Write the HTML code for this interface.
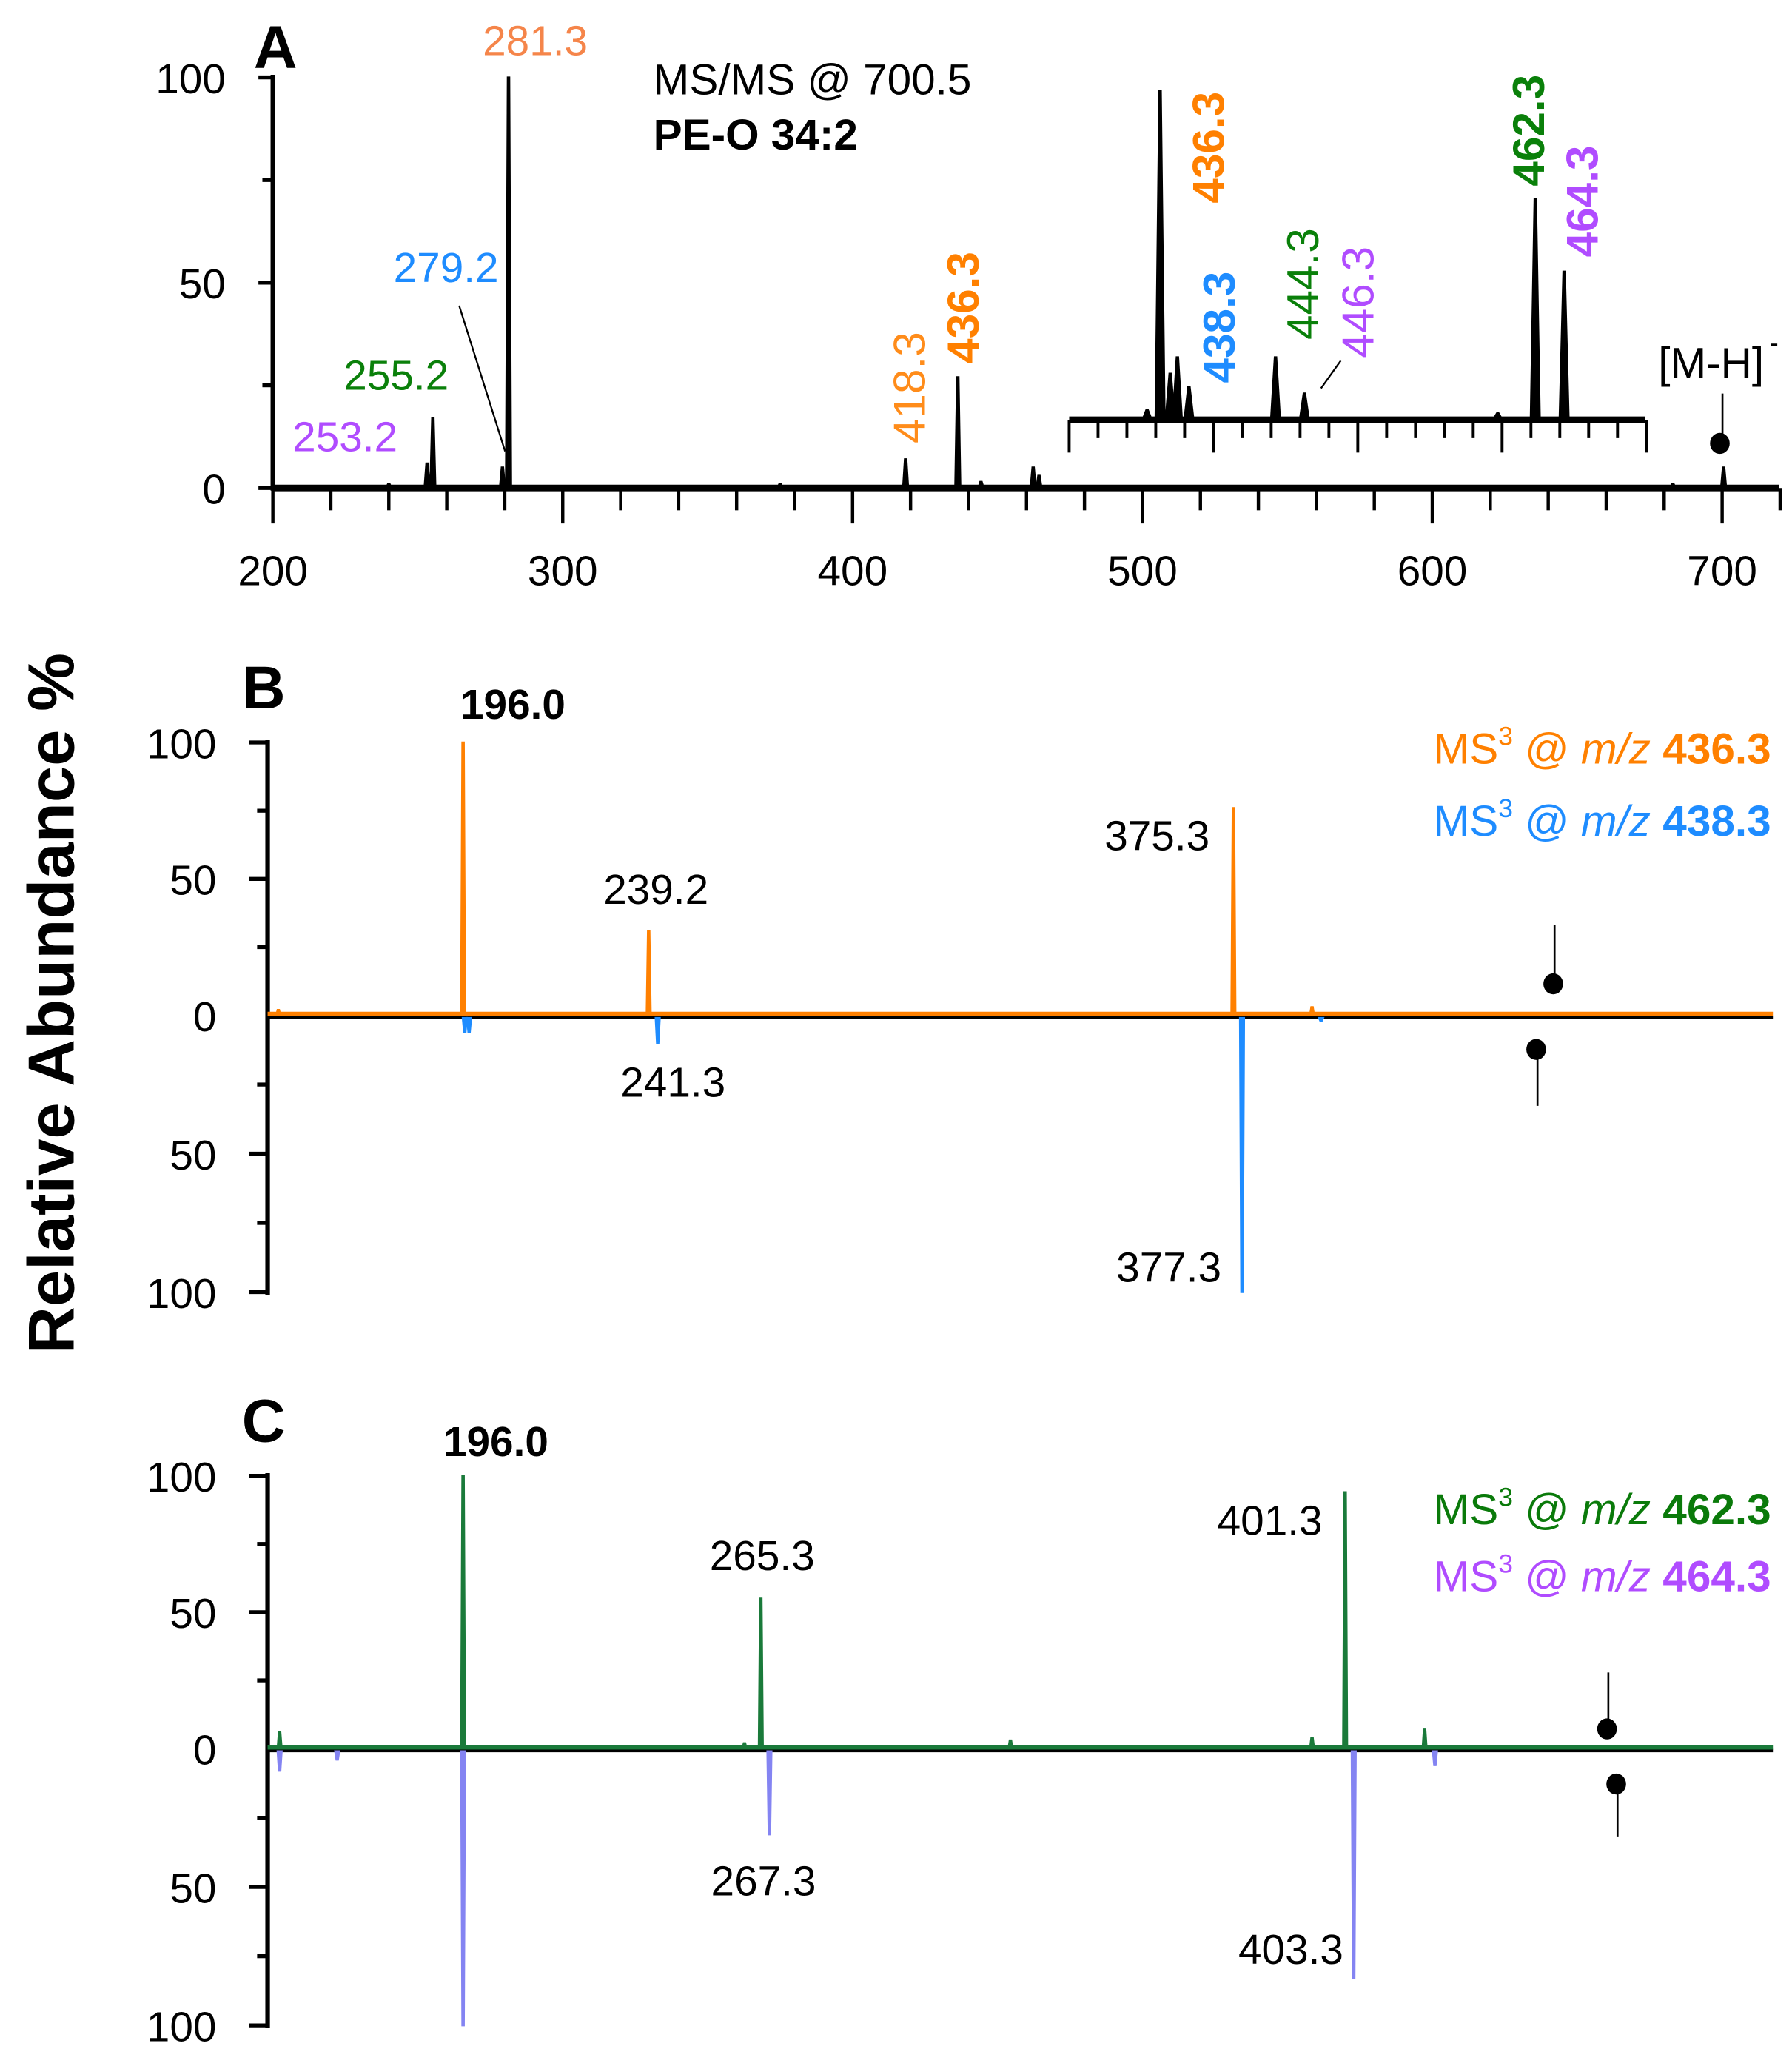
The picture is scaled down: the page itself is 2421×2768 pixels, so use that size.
<!DOCTYPE html>
<html><head><meta charset="utf-8">
<style>
html,body{margin:0;padding:0;background:#fff;}
svg{display:block;}
text{font-family:"Liberation Sans",Arial,sans-serif;}
</style></head>
<body>
<svg id="fig" width="2421" height="2768" viewBox="0 0 1366 1562" preserveAspectRatio="none" xmlns="http://www.w3.org/2000/svg">
<g id="gA"></g>
<g id="gB"></g>
<g id="gC"></g>
<text transform="translate(56,765) rotate(-90)" text-anchor="middle" font-size="50" font-weight="bold">Relative Abundance %</text>
</svg>
<script>
// Panel A data
const aMz   = [240, 253.2, 255.2, 279.2, 281.3, 375, 418.3, 436.3, 444.3, 462.3, 464.3, 683, 700.5];
const aInt  = [1, 6, 17, 5, 100, 1, 7, 27, 1.5, 5, 3, 1, 5];
const aXTicks = [200, 300, 400, 500, 600, 700];
const aYTicks = [0, 50, 100];
const insetMz  = [435.4, 436.3, 437.0, 437.5, 438.3, 444.3, 446.3, 459.7, 462.3, 464.3];
const insetInt = [3, 100, 14, 19, 10, 19, 8, 2, 67, 45];
// Panel B data
const bUpMz  = [153, 196.0, 239.2, 375.3, 393.6];
const bUpInt = [2, 100, 31, 76, 3];
const bDnMz  = [196.4, 197.4, 241.3, 377.3, 395.7];
const bDnInt = [6, 6, 10, 100, 2];
// Panel C data
const cUpMz  = [153.3, 196.0, 261.5, 265.3, 323.4, 393.6, 401.3, 419.8];
const cUpInt = [6, 100, 2, 55, 3, 4, 94, 7];
const cDnMz  = [153.3, 166.7, 196.0, 267.3, 403.3, 422.2];
const cDnInt = [8, 4, 100, 31, 83, 6];
const yTicksBC = [100, 50, 0, 50, 100];

const NS = "http://www.w3.org/2000/svg";
function el(tag, attrs, parent, txt){
  const e = document.createElementNS(NS, tag);
  for (const k in attrs) e.setAttribute(k, attrs[k]);
  if (txt !== undefined) e.textContent = txt;
  parent.appendChild(e); return e;
}
function line(p, x1,y1,x2,y2,c,w,name){
  const e = el('line',{x1:x1,y1:y1,x2:x2,y2:y2,stroke:c,'stroke-width':w},p);
  
  
  return e;
}
function txt(p, x,y,s,opts,name){
  const a = Object.assign({x:x,y:y,'font-size':32,'text-anchor':'middle',fill:'#000'}, opts||{});
  const e = el('text', a, p, s);
  
  
  return e;
}
function rtxt(p, x,y,s,col,bold,name){
  const e = el('text',{transform:`translate(${x},${y}) rotate(-90)`,'font-size':34,fill:col,'font-weight':bold?'bold':'normal'},p,s);
  
  
  return e;
}
function peak(p, x, y0, y1, c, w, name){
  const e = el('path',{d:`M${x-w} ${y0} L${x-0.6} ${y1} L${x+0.6} ${y1} L${x+w} ${y0} Z`,fill:c,stroke:c,'stroke-width':1.4},p);
  
  
  return e;
}

// ---------- Panel A ----------
(function(){
  const g = document.getElementById('gA');
  const X = m => 208 + (m-200)*2.2095;
  const Y = v => 372 - v*3.13;
  const x0 = 208, xEnd = 1356, y0 = 372;
  for (let m=200; m<=720; m+=20){
    const major = (m%100===0);
    line(g, X(m), y0, X(m), major?399:389, '#000', 2.5, major?'x-tick-major':'x-tick-minor');
  }
  aXTicks.forEach(t=>txt(g, X(t), 446, String(t), {}, 'x-tick-label'));
  [0,25,50,75,100].forEach(v=>{
    const major = v%50===0;
    line(g, major?197:200, Y(v), x0, Y(v), '#000', 3, major?'y-tick-major':'y-tick-minor');
  });
  aYTicks.forEach(t=>txt(g, 172, Y(t)+12, String(t), {'text-anchor':'end'}, 'y-tick-label'));
  line(g, x0, Y(100)-2, x0, y0+2, '#000', 3.5, 'y-axis-line');
  aMz.forEach((m,i)=>peak(g, X(m), y0, Y(aInt[i]), '#000', 2, 'peak-a'));
  line(g, x0, y0, xEnd, y0, '#000', 5, 'x-axis-line');
  // inset
  const IX = m => 815 + (m-430)*11;
  const IY = v => 320 - v*2.51;
  for (let k=0;k<=20;k++){
    const m = 430 + k*2;
    const major = k%5===0;
    line(g, IX(m), 320, IX(m), major?345:334, '#000', 2.2, major?'inset-tick-major':'inset-tick-minor');
  }
  insetMz.forEach((m,i)=>peak(g, IX(m), 320, IY(insetInt[i]), '#000', 3.5, 'inset-peak'));
  line(g, 815, 320, 1254, 320, '#000', 5, 'inset-axis-line');
  // precursor marker
  line(g, 1313, 300, 1313, 336, '#000', 1.5, 'precursor-line');
  const d = el('ellipse',{cx:1311,cy:338,rx:7.5,ry:8,fill:'#000'},g);
  
  
  // labels
  txt(g, 210, 52, 'A', {'font-size':46,'font-weight':'bold'}, 'panel-label-a');
  txt(g, 498, 72, 'MS/MS @ 700.5', {'text-anchor':'start','font-size':33}, 'title-msms');
  txt(g, 498, 114, 'PE-O 34:2', {'text-anchor':'start','font-size':33,'font-weight':'bold'}, 'title-lipid');
  txt(g, 408, 42, '281.3', {fill:'#f5854a'}, 'label-281');
  txt(g, 340, 215, '279.2', {fill:'#1e8cff'}, 'label-279');
  txt(g, 302, 297, '255.2', {fill:'#0a800a'}, 'label-255');
  txt(g, 263, 344, '253.2', {fill:'#b04cff'}, 'label-253');
  line(g, 350, 233, 385, 344, '#000', 1.3, 'leader-279');
  line(g, 1022, 275, 1007, 296, '#000', 1.3, 'leader-446');
  rtxt(g, 705, 338, '418.3', '#ff8c1a', false, 'label-418');
  rtxt(g, 746, 277, '436.3', '#ff8000', true, 'label-436-main');
  rtxt(g, 933, 155, '436.3', '#ff8000', true, 'label-436-inset');
  rtxt(g, 941, 292, '438.3', '#1e8cff', true, 'label-438');
  rtxt(g, 1005, 259, '444.3', '#0a800a', false, 'label-444');
  rtxt(g, 1047, 273, '446.3', '#b04cff', false, 'label-446');
  rtxt(g, 1177, 142, '462.3', '#0a800a', true, 'label-462');
  rtxt(g, 1218, 196, '464.3', '#b04cff', true, 'label-464');
  txt(g, 1264, 288, '[M-H]', {'text-anchor':'start','font-size':33}, 'label-mh');
  txt(g, 1349, 268, '-', {'text-anchor':'start','font-size':20}, 'label-mh-charge');
})();

// ---------- Panels B & C ----------
function mirror(gid, top, upMz, upInt, dnMz, dnInt, upCol, dnCol, opt){
  const g = document.getElementById(gid);
  const X = m => 353 + (m-196)*3.275;
  const y0 = top + 208;
  const YU = v => y0 - v*2.08;
  const YD = v => y0 + v*2.11;
  [100,75,50,25].forEach(v=>{
    const major = v%50===0;
    line(g, major?190:196, YU(v), 204, YU(v), '#000', 3, 'y-tick');
    line(g, major?190:196, YD(v), 204, YD(v), '#000', 3, 'y-tick');
  });
  const pos = [YU(100), YU(50), y0, YD(50), YD(100)];
  yTicksBC.forEach((t,i)=>txt(g, 165, pos[i]+12, String(t), {'text-anchor':'end'}, 'y-tick-label'));
  line(g, 204, YU(100)-2, 204, YD(100)+2, '#000', 3.5, 'y-axis-line');
  line(g, 204, y0+1.5, 1352, y0+1.5, '#000', 2.5, 'zero-line');
  dnMz.forEach((m,i)=>peak(g, X(m), y0+2, YD(dnInt[i]), dnCol, 1.6, 'peak-down'));
  upMz.forEach((m,i)=>peak(g, X(m), y0, YU(upInt[i]), upCol, 1.6, 'peak-up'));
  line(g, 204, y0-1, 1352, y0-1, upCol, 3.5, 'trace-baseline');
  // precursor markers
  line(g, opt.up[0]+1, opt.up[2], opt.up[0]+1, opt.up[1], '#000', 1.5, 'precursor-line-up');
  let d = el('ellipse',{cx:opt.up[0],cy:opt.up[1],rx:7.5,ry:8,fill:'#000'},g);
  
  
  line(g, opt.dn[0]+1, opt.dn[1], opt.dn[0]+1, opt.dn[2], '#000', 1.5, 'precursor-line-down');
  d = el('ellipse',{cx:opt.dn[0],cy:opt.dn[1],rx:7.5,ry:8,fill:'#000'},g);
  
  
  txt(g, 201, top-26, opt.letter, {'font-size':46,'font-weight':'bold'}, 'panel-label');
  opt.labels.forEach(l=>txt(g, l[0], l[1], l[2], l[3]?{'font-weight':'bold'}:{}, 'peak-label'));
  opt.legend.forEach(l=>{
    const t = el('text',{x:1350,y:l[0],'text-anchor':'end','font-size':33,fill:l[1]},g);
    
    
    t.innerHTML = `MS<tspan font-size="20" dy="-14">3</tspan><tspan dy="14"> @ </tspan><tspan font-style="italic">m/z</tspan> <tspan font-weight="bold">${l[2]}</tspan>`;
  });
}
mirror('gB', 566, bUpMz, bUpInt, bDnMz, bDnInt, '#ff8000', '#1e8cff', {
  letter:'B', up:[1184,750,705], dn:[1171,800,843],
  labels:[[391,548,'196.0',1],[500,689,'239.2'],[882,648,'375.3'],[513,836,'241.3'],[891,977,'377.3']],
  legend:[[582,'#ff8000','436.3'],[637,'#1e8cff','438.3']]
});
mirror('gC', 1125, cUpMz, cUpInt, cDnMz, cDnInt, '#1a7a3a', '#8484f2', {
  letter:'C', up:[1225,1318,1275], dn:[1232,1360,1400],
  labels:[[378,1110,'196.0',1],[581,1197,'265.3'],[968,1170,'401.3'],[582,1445,'267.3'],[984,1497,'403.3']],
  legend:[[1162,'#0a7a0a','462.3'],[1213,'#b04cff','464.3']]
});
</script>
</body></html>
